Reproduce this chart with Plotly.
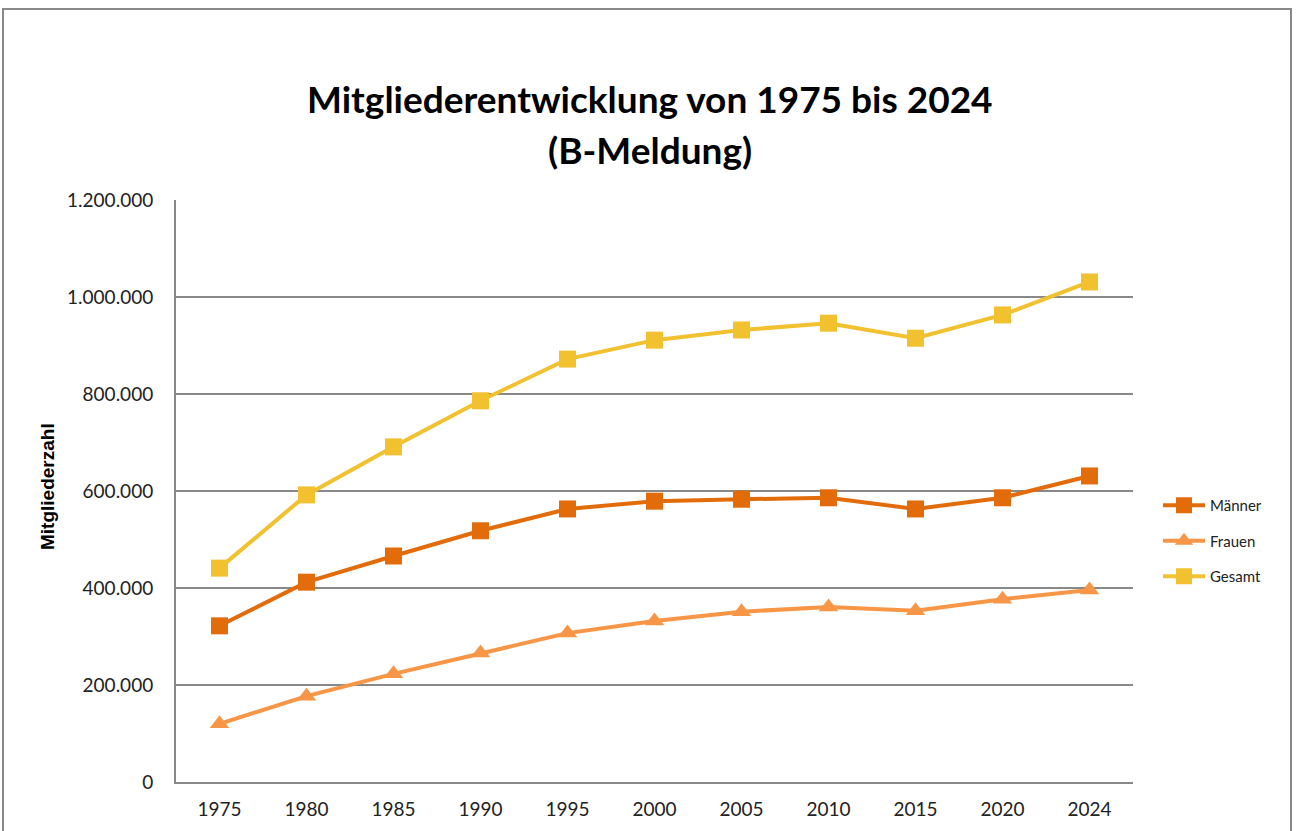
import plotly.graph_objects as go

years = ["1975", "1980", "1985", "1990", "1995", "2000", "2005", "2010", "2015", "2020", "2024"]
maenner = [322000, 412000, 466000, 518000, 563000, 579000, 583000, 586000, 563000, 586000, 631000]
frauen = [120000, 177000, 223000, 266000, 307000, 332000, 351000, 361000, 353000, 377000, 396000]
gesamt = [441000, 592000, 691000, 786000, 872000, 911000, 932000, 946000, 915000, 963000, 1031000]

title_lines = ["Mitgliederentwicklung von 1975 bis 2024", "(B-Meldung)"]
y_title = "Mitgliederzahl"

FONT = "Lato"
W, H = 1299, 831
L, R, T, B = 176, 1133, 200, 782

def px(x):
    return (x - L) / (R - L)

def py(y):
    return (B - y) / (B - T)

fig = go.Figure()
series = [
    ("Männer", maenner, "#E36C0A", "square"),
    ("Frauen", frauen, "#F79646", "triangle-up"),
    ("Gesamt", gesamt, "#F2C130", "square"),
]
for i, (name, vals, col, sym) in enumerate(series):
    fig.add_trace(go.Scatter(
        x=years, y=vals, name=name, mode="lines+markers",
        line=dict(color=col, width=4),
        marker=dict(symbol=sym, size=17, color=col),
        legendgroup=name,
    ))

fig.update_layout(
    width=W, height=H,
    margin=dict(l=L, r=W - R, t=T, b=H - B, autoexpand=False),
    paper_bgcolor="white", plot_bgcolor="white",
    separators=",.",
    font=dict(family=FONT, color="#000000"),
    showlegend=True,
    legend=dict(x=px(1158), y=py(489), xanchor="left", yanchor="top",
                font=dict(size=15, family=FONT, color="#222222"),
                tracegroupgap=13, itemwidth=42, bgcolor="rgba(0,0,0,0)"),
    xaxis=dict(type="category", range=[-0.5, 10.5], showgrid=False, automargin=False,
               showline=True, linecolor="#898989", linewidth=2,
               ticks="", tickfont=dict(size=19, family=FONT, color="#222222"),
               ticklabelstandoff=9, fixedrange=True),
    yaxis=dict(range=[0, 1200000], tickvals=[0, 200000, 400000, 600000, 800000, 1000000, 1200000],
               tickformat=",d", showgrid=True, gridcolor="#898989", gridwidth=1.5, automargin=False,
               showline=True, linecolor="#898989", linewidth=2, zeroline=False,
               ticks="", tickfont=dict(size=19, family=FONT, color="#222222"),
               ticklabelstandoff=17, fixedrange=True),
)

fig.add_annotation(text="<b>" + title_lines[0] + "</b>", x=px(650), y=py(99), xref="paper", yref="paper",
                   showarrow=False, font=dict(size=37, family=FONT, color="#000000"), xanchor="center", yanchor="middle")
fig.add_annotation(text="<b>" + title_lines[1] + "</b>", x=px(650), y=py(149), xref="paper", yref="paper",
                   showarrow=False, font=dict(size=37, family=FONT, color="#000000"), xanchor="center", yanchor="middle")
fig.add_annotation(text="<b>" + y_title + "</b>", x=px(47), y=py(487), xref="paper", yref="paper",
                   showarrow=False, textangle=-90, font=dict(size=19, family="Liberation Sans", color="#000000"),
                   xanchor="center", yanchor="middle")

fig.add_shape(type="rect", xref="paper", yref="paper",
              x0=px(3), x1=px(1291), y0=py(845), y1=py(9),
              line=dict(color="#898989", width=2), fillcolor="rgba(0,0,0,0)", layer="below")

fig.write_html("out.html", config={"displayModeBar": False},
               post_script="document.body.style.margin='0';document.body.style.overflow='hidden';")
